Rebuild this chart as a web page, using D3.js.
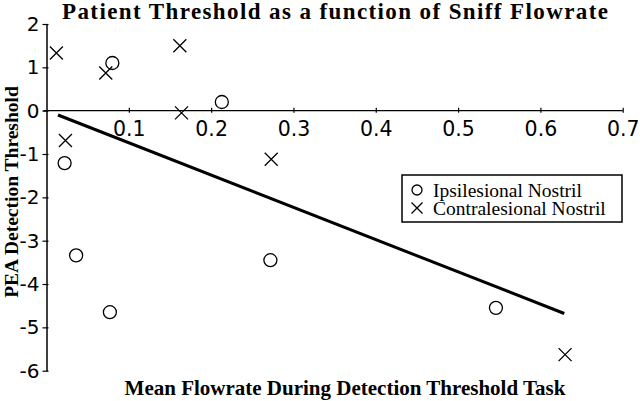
<!DOCTYPE html>
<html>
<head>
<meta charset="utf-8">
<script src="https://cdn.jsdelivr.net/npm/d3@7"></script>
<style>
  body { margin: 0; background: #fff; }
  svg { display: block; }
</style>
</head>
<body>
<svg id="chart"></svg>
<script>
const width = 640, height = 401

// values
const ipsiX = [0.080, 0.213, 0.022, 0.036, 0.077, 0.272, 0.546]
const ipsiY = [1.10, 0.20, -1.21, -3.34, -4.65, -3.45, -4.55]
const contraX = [0.012, 0.072, 0.162, 0.164, 0.023, 0.273, 0.630]
const contraY = [1.33, 0.87, 1.50, -0.05, -0.69, -1.12, -5.63]
const fitX = [0.014, 0.629]
const fitY = [-0.10, -4.68]
const xTicks = [0.1, 0.2, 0.3, 0.4, 0.5, 0.6, 0.7]
const yTicks = [2, 1, 0, -1, -2, -3, -4, -5, -6]
const seriesNames = ["Ipsilesional Nostril", "Contralesional Nostril"]

const svg = d3.select("svg#chart")
    .attr("width", width)
    .attr("height", height)
    .attr("viewBox", [0, 0, width, height])

const xScale = d3.scaleLinear().domain([0, 0.7]).range([46.5, 622.7])
const yScale = d3.scaleLinear().domain([-6, 2]).range([370.7, 24])

const serif = "'Liberation Serif', 'Times New Roman', serif"
const sans = "'DejaVu Sans', Verdana, sans-serif"

// x axis along y = 0
const xAxis = svg.append("g")
    .attr("transform", `translate(0, ${yScale(0)})`)
    .call(d3.axisBottom(xScale).tickValues(xTicks).tickFormat(d3.format(".1f"))
        .tickSize(0).tickSizeOuter(0).tickPadding(11))
xAxis.select(".domain").attr("d", `M${xScale(0) - 3},0H${xScale(0.7)}`).attr("stroke-width", 1.3)
xAxis.selectAll(".tick line").attr("y1", -3).attr("y2", 2).attr("stroke-width", 1.2)
xAxis.selectAll(".tick text")
    .attr("font-family", sans).attr("font-size", 20.5).attr("fill", "#000")

// y axis
const yAxis = svg.append("g")
    .attr("transform", `translate(${xScale(0)}, 0)`)
    .call(d3.axisLeft(yScale).tickValues(yTicks).tickFormat(d => String(d))
        .tickSize(0).tickSizeOuter(0).tickPadding(7))
yAxis.select(".domain").attr("stroke-width", 1.5)
yAxis.selectAll(".tick line").attr("x1", -4).attr("x2", 2).attr("stroke-width", 1.2)
yAxis.selectAll(".tick text")
    .attr("font-family", sans).attr("font-size", 20).attr("fill", "#000")

// regression line
svg.append("line")
    .attr("x1", xScale(fitX[0])).attr("y1", yScale(fitY[0]))
    .attr("x2", xScale(fitX[1])).attr("y2", yScale(fitY[1]))
    .attr("stroke", "#000").attr("stroke-width", 3)

const crossPath = s => `M${-s},${-s}L${s},${s}M${-s},${s}L${s},${-s}`

svg.append("g").selectAll("circle")
    .data(d3.zip(ipsiX, ipsiY))
    .enter()
    .append("circle")
    .attr("cx", d => xScale(d[0]))
    .attr("cy", d => yScale(d[1]))
    .attr("r", 6.5)
    .attr("fill", "none").attr("stroke", "#000").attr("stroke-width", 1.3)

svg.append("g").selectAll("path")
    .data(d3.zip(contraX, contraY))
    .enter()
    .append("path")
    .attr("transform", d => `translate(${xScale(d[0])}, ${yScale(d[1])})`)
    .attr("d", crossPath(6.5))
    .attr("fill", "none").attr("stroke", "#000").attr("stroke-width", 1.3)

// legend
const legend = svg.append("g").attr("transform", "translate(402, 175)")
legend.append("rect")
    .attr("width", 220).attr("height", 47)
    .attr("fill", "#fff").attr("stroke", "#000").attr("stroke-width", 1.5)
legend.append("circle")
    .attr("cx", 15).attr("cy", 15).attr("r", 5)
    .attr("fill", "none").attr("stroke", "#000").attr("stroke-width", 1.3)
legend.append("path")
    .attr("transform", "translate(15, 33)")
    .attr("d", crossPath(5.5))
    .attr("fill", "none").attr("stroke", "#000").attr("stroke-width", 1.3)
legend.selectAll("text")
    .data(seriesNames)
    .enter()
    .append("text")
    .attr("x", 31)
    .attr("y", (d, i) => 22 + i * 18)
    .attr("font-family", serif).attr("font-size", 19.5)
    .text(d => d)

// titles
svg.append("text")
    .attr("x", 335).attr("y", 19)
    .attr("text-anchor", "middle")
    .attr("font-family", serif).attr("font-weight", "bold").attr("font-size", 23)
    .attr("textLength", 546).attr("lengthAdjust", "spacing")
    .text("Patient Threshold as a function of Sniff Flowrate")

svg.append("text")
    .attr("x", 345).attr("y", 395)
    .attr("text-anchor", "middle")
    .attr("font-family", serif).attr("font-weight", "bold").attr("font-size", 21)
    .text("Mean Flowrate During Detection Threshold Task")

svg.append("text")
    .attr("transform", "translate(18, 192) rotate(-90)")
    .attr("text-anchor", "middle")
    .attr("font-family", serif).attr("font-weight", "bold").attr("font-size", 19.5)
    .text("PEA Detection Threshold")
</script>
</body>
</html>
